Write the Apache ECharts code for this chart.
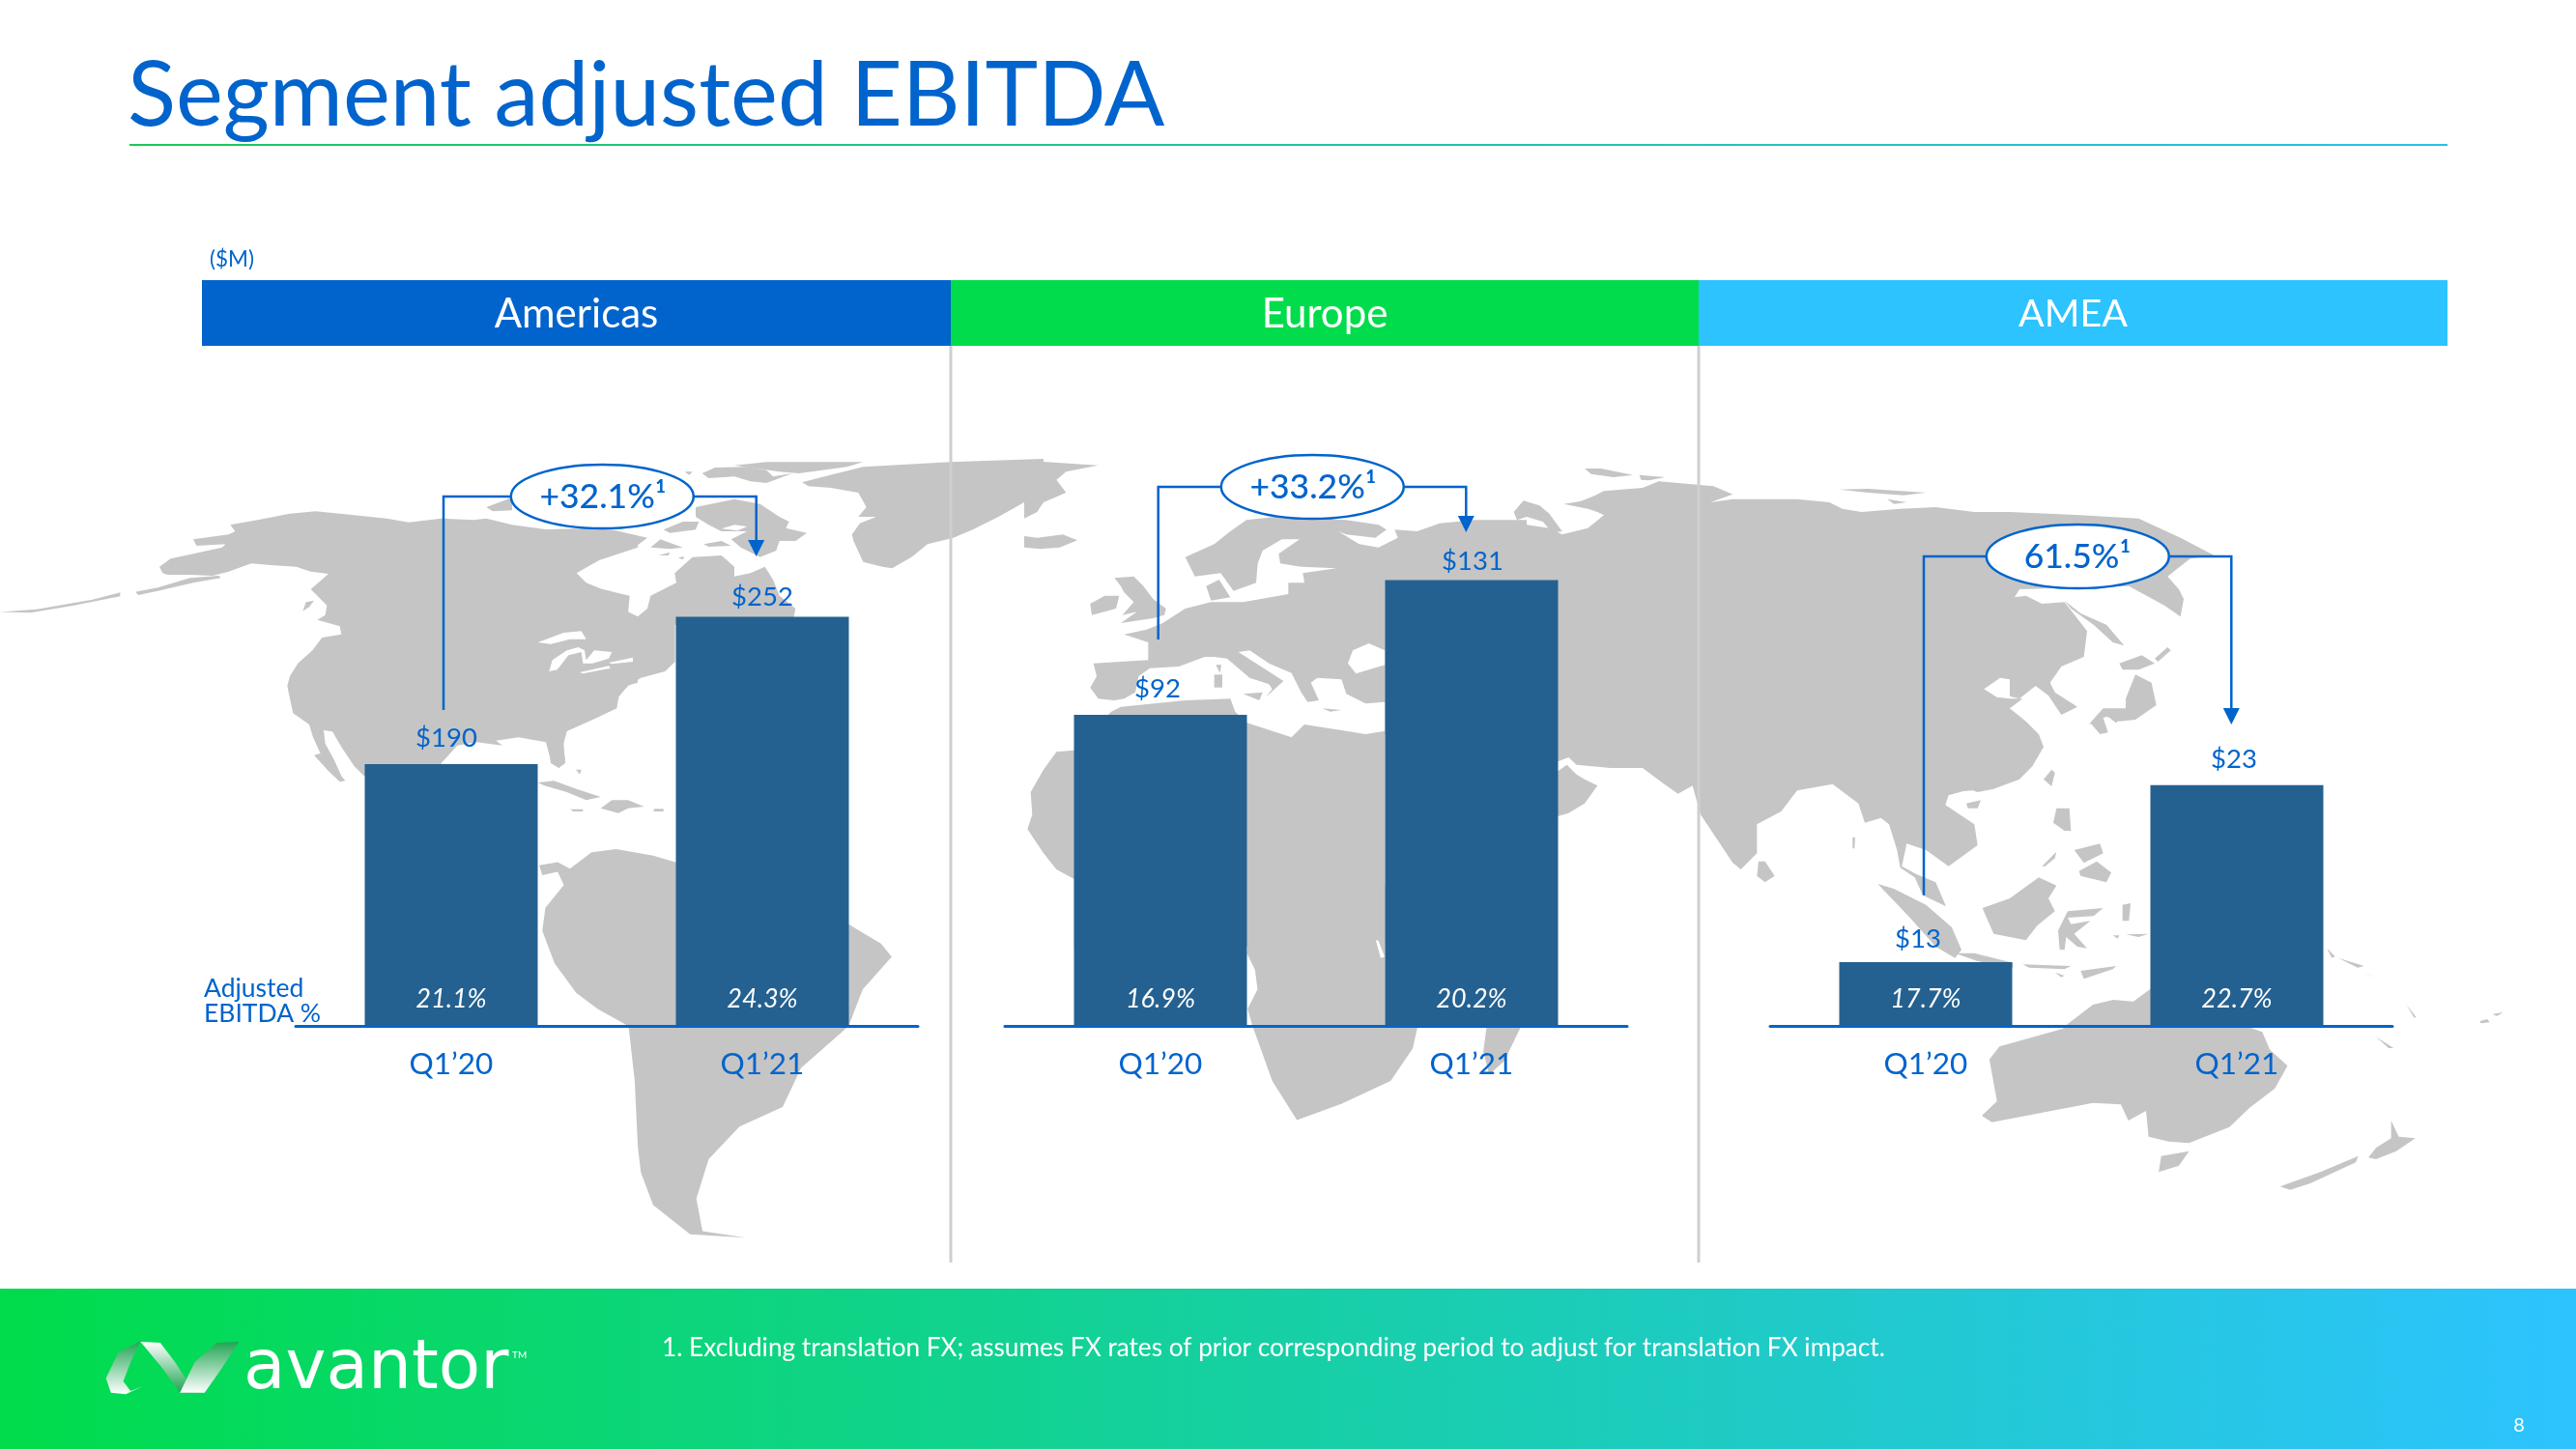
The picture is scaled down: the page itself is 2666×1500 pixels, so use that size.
<!DOCTYPE html>
<html><head><meta charset="utf-8">
<style>html,body{margin:0;padding:0;background:#fff}#c{width:2666px;height:1500px}</style>
<script src="https://cdn.jsdelivr.net/npm/echarts@6/dist/echarts.min.js"></script>
</head><body><div id="c"></div>
<script>
// ---- data ----
const categories = ['Q1’20', 'Q1’21'];
const regions = ['Americas', 'Europe', 'AMEA'];
const americasEbitda = [190, 252];
const europeEbitda = [92, 131];
const ameaEbitda = [13, 23];
const americasMargin = [21.1, 24.3];
const europeMargin = [16.9, 20.2];
const ameaMargin = [17.7, 22.7];
const growthLabels = ['+32.1%¹', '+33.2%¹', '61.5%¹'];
const footnote = '1. Excluding translation FX; assumes FX rates of prior corresponding period to adjust for translation FX impact.';

// value windows of the three truncated axes
const axisMin = [80, 2, 9.4];
const axisMax = [348, 186.5, 45.4];

// ---- palette ----
const BLUE = '#0064CC', GREEN = '#00DC4B', CYAN = '#2DC3FF', BAR = '#246190', LAND = '#C5C5C5', RULE = '#CFCFCF';
const FONT = 'Lato';

// ---- background world map outline (decorative), traced in crop views ----
const views = {
  a: [0, 240, 1.568, 1.479], b: [980, 240, 1.96, 1.479],
  w: [140, 470, 3, 3], e: [560, 460, 3, 3], u: [1060, 460, 3, 3],
  s: [1560, 470, 3, 3], o: [1980, 560, 3, 3], z: [1800, 820, 1.912, 3]
};
const land = [
 ['a',[[0,582],[60,578],[150,563],[195,552],[195,558],[120,572],[50,583]]],
 ['w',[[0,428],[70,415],[170,385],[260,378],[265,385],[180,400],[70,425],[10,438]]],
 ['w',[[75,350],[110,325],[180,310],[270,290],[280,280],[190,285],[180,265],[290,250],[310,240],[295,220],[380,205],[480,185],[560,178],[680,190],[780,200],[850,212],[950,200],[1050,205],[1090,200],[1170,220],[1280,235],[1290,240],[1560,255],[1560,290],[1440,330],[1370,370],[1385,405],[1470,425],[1530,445],[1530,490],[1560,505],[1560,710],[1505,725],[1490,790],[1430,820],[1340,860],[1330,900],[1335,960],[1315,975],[1290,950],[1275,895],[1190,880],[1120,890],[1140,905],[1060,895],[1000,905],[950,960],[945,1000],[710,1000],[680,970],[640,910],[612,862],[585,858],[590,900],[615,945],[640,1000],[652,1015],[635,1018],[600,985],[555,935],[575,930],[552,880],[540,840],[490,805],[480,760],[472,720],[480,690],[505,650],[550,610],[580,570],[640,560],[635,535],[565,515],[590,500],[595,470],[545,420],[600,372],[545,365],[500,350],[420,345],[360,340],[290,365],[240,378],[170,375],[100,375],[85,370]]],
 ['w',[[520,488],[530,460],[555,455],[540,475]]],
 ['w',[[1090,165],[1170,135],[1170,175],[1110,178]]],
 ['w',[[1250,1020],[1300,1015],[1370,1040],[1445,1065],[1400,1075],[1340,1050],[1270,1030]]],
 ['e',[[0,265],[100,262],[220,265],[330,290],[290,320],[210,345],[140,370],[110,400],[140,430],[190,450],[275,470],[270,525],[300,535],[330,510],[340,470],[420,430],[415,400],[470,350],[560,345],[600,380],[600,410],[650,400],[695,380],[720,420],[740,470],[790,510],[780,560],[416,560],[416,675],[385,705],[310,725],[270,750],[240,790],[235,820],[160,855],[80,890],[65,920],[75,985],[55,1005],[30,990],[20,920],[0,915]]],
 ['e',[[185,1130],[220,1105],[270,1105],[320,1125],[270,1130],[240,1145]]],
 ['e',[[90,1133],[130,1133],[130,1140],[100,1140]]],
 ['e',[[350,1132],[380,1132],[380,1140],[350,1140]]],
 ['e',[[108,1010],[125,1010],[120,1025]]],
 ['e',[[480,195],[600,170],[680,185],[740,225],[770,240],[760,260],[825,275],[790,300],[740,300],[730,330],[680,350],[620,320],[590,295],[640,270],[600,270],[560,270],[520,250],[480,225]]],
 ['e',[[380,265],[440,240],[490,240],[480,265],[400,275]]],
 ['e',[[340,320],[370,295],[440,320],[400,325]]],
 ['e',[[505,310],[560,300],[590,315],[520,318]]],
 ['e',[[365,345],[400,335],[395,345]]],
 ['e',[[425,352],[445,348],[440,358]]],
 ['e',[[500,90],[540,72],[640,70],[700,80],[720,100],[780,90],[700,120],[650,115],[600,100],[520,105]]],
 ['e',[[445,85],[470,85],[460,95]]],
 ['e',[[600,65],[700,55],[1000,55],[950,70],[800,90],[740,85]]],
 ['e',[[810,118],[880,100],[1000,70],[1270,55],[1560,45],[1560,160],[1500,180],[1420,225],[1340,265],[1280,290],[1200,310],[1150,350],[1090,385],[1060,380],[1000,365],[970,300],[965,280],[990,245],[1040,225],[985,225],[1010,195],[985,150],[900,135],[830,130]]],
 ['u',[[0,50],[230,65],[130,85],[100,110],[130,150],[60,180],[40,210],[0,230]]],
 ['u',[[0,285],[40,290],[120,280],[165,298],[110,320],[50,325],[0,320]]],
 ['u',[[280,415],[340,410],[370,440],[400,480],[440,510],[435,530],[400,540],[300,555],[350,520],[305,530],[340,490],[310,460],[300,440]]],
 ['u',[[205,495],[250,470],[295,470],[285,510],[210,530]]],
 // Europe with Scandinavia and the Russian Arctic shore
 ['u',[[310,590],[380,575],[430,555],[500,510],[580,490],[680,490],[820,465],[820,430],[870,430],[865,400],[970,385],[860,380],[795,370],[790,340],[855,295],[800,295],[740,330],[725,370],[720,430],[650,455],[610,400],[530,410],[500,350],[590,310],[640,270],[690,235],[780,225],[1000,235],[1100,250],[1125,265],[1090,290],[1000,280],[975,270],[1040,310],[1100,320],[1160,290],[1150,265],[1220,270],[1290,245],[1400,235],[1560,235],[1560,900],[1120,900],[1120,800],[1060,805],[1000,775],[985,730],[910,725],[890,740],[915,795],[880,800],[860,770],[830,710],[760,680],[700,640],[665,645],[720,680],[805,735],[750,785],[770,760],[760,745],[700,725],[630,665],[590,660],[560,660],[480,690],[390,695],[355,720],[345,770],[310,790],[280,795],[230,790],[205,755],[225,720],[215,680],[385,670],[385,615]]],
 ['u',[[565,440],[605,420],[640,475],[580,485]]],
 ['u',[[680,775],[740,770],[730,795]]],
 ['u',[[590,715],[615,715],[615,755],[590,755]]],
 ['u',[[595,685],[612,685],[608,710]]],
 ['u',[[925,820],[985,825],[950,830]]],
 // Africa
 ['u',[[270,830],[300,815],[500,795],[640,790],[655,830],[692,865],[830,910],[870,870],[1000,890],[1060,900],[1120,890],[1120,1560],[155,1560],[155,1350],[100,1320],[60,1270],[10,1195],[25,1150],[20,1080],[60,1010],[100,955],[155,950]]],
 ['b',[[612,1000],[889,1000],[889,1216],[955,1216],[945,1250],[900,1300],[800,1335],[710,1360],[660,1300],[620,1216],[610,1190],[630,1160],[625,1130],[609,1105]]],
 ['b',[[1095,1216],[1165,1216],[1130,1270],[1100,1290],[1088,1255]]],
 // South America
 ['a',[[875,970],[905,965],[925,975],[960,950],[1000,945],[1060,955],[1096,965],[1377,1060],[1430,1090],[1447,1110],[1400,1160],[1377,1216],[1300,1280],[1270,1340],[1200,1370],[1150,1420],[1130,1480],[1140,1530],[1210,1540],[1120,1535],[1060,1490],[1040,1440],[1035,1400],[1030,1300],[1020,1216],[970,1190],[935,1165],[900,1120],[880,1070],[885,1035],[915,1000],[905,980],[880,985]]],
 // Asia
 ['s',[[157,985],[185,965],[215,995],[240,1010],[280,1030],[240,1085],[190,1115],[157,1125],[100,1125]]],
 ['s',[[0,205],[30,215],[130,230],[170,250],[250,230],[300,190],[220,150],[270,130],[300,115],[420,105],[470,85],[530,90],[640,100],[700,125],[630,150],[700,140],[780,140],[900,140],[1000,150],[1040,170],[1100,180],[1220,170],[1330,165],[1450,180],[1560,180],[1560,1020],[1440,1040],[1370,1060],[1360,1090],[1450,1150],[1460,1215],[1370,1280],[1300,1230],[1240,1210],[1225,1280],[1270,1305],[1330,1330],[1362,1405],[1290,1370],[1265,1315],[1220,1285],[1210,1230],[1185,1150],[1160,1130],[1110,1145],[1090,1085],[1010,1025],[900,1045],[850,1110],[775,1150],[775,1240],[725,1290],[700,1270],[640,1180],[600,1120],[575,1030],[530,1055],[480,1020],[420,975],[320,975],[215,965],[190,942],[157,955],[0,960]]],
 ['s',[[20,180],[50,145],[100,160],[130,185],[170,240],[140,245],[110,210],[60,195],[30,205]]],
 ['s',[[175,155],[240,145],[310,190],[250,170]]],
 ['s',[[240,45],[290,45],[390,65],[330,72],[260,62]]],
 ['s',[[410,65],[490,72],[440,82],[415,80]]],
 ['s',[[1030,110],[1120,108],[1300,120],[1230,128],[1120,120]]],
 ['s',[[1180,140],[1240,150],[1200,155]]],
 ['s',[[780,1265],[800,1265],[830,1310],[800,1330],[775,1310]]],
 ['s',[[1072,1190],[1080,1190],[1078,1225],[1072,1225]]],
 ['s',[[1150,1335],[1200,1350],[1300,1400],[1380,1470],[1410,1540],[1390,1565],[1330,1530],[1250,1440]]],
 // East Asia
 ['o',[[0,-90],[300,-90],[520,-80],[700,-70],[830,-10],[935,45],[860,55],[790,110],[825,150],[840,180],[830,235],[780,200],[670,140],[330,150],[315,175],[350,170],[400,195],[470,190],[540,280],[530,360],[460,390],[425,440],[440,470],[510,515],[460,540],[420,480],[380,450],[330,490],[290,480],[285,430],[260,425],[220,460],[280,490],[340,490],[300,520],[350,560],[390,600],[405,640],[370,700],[330,740],[250,770],[200,780],[185,775],[110,780],[100,815],[0,815]]],
 ['o',[[165,815],[210,805],[200,830],[170,830]]],
 ['o',[[405,740],[430,710],[440,720],[430,762]]],
 ['o',[[545,570],[590,520],[660,520],[660,490],[690,415],[740,440],[755,510],[690,555],[640,560],[600,545]]],
 ['o',[[550,565],[590,550],[605,595],[580,600]]],
 ['o',[[610,550],[650,545],[630,565]]],
 ['o',[[640,380],[710,355],[750,380],[700,400],[650,400]]],
 ['o',[[470,185],[520,225],[600,260],[655,325],[620,315],[560,260],[490,210]]],
 ['o',[[750,365],[790,330],[800,340],[760,375]]],
 ['o',[[445,830],[485,830],[490,900],[470,900],[435,875]]],
 ['o',[[515,1025],[570,995],[615,1030],[600,1060],[560,1050],[520,1040]]],
 ['o',[[500,960],[580,940],[590,970],[530,1000]]],
 ['o',[[400,1010],[445,965],[440,985],[410,1010]]],
 ['o',[[215,1140],[300,1110],[390,1045],[445,1070],[420,1110],[440,1150],[385,1195],[350,1240],[250,1220]]],
 ['o',[[450,1210],[480,1150],[590,1140],[560,1165],[480,1170],[490,1190],[550,1180],[500,1220],[540,1265],[510,1260],[475,1230],[470,1270],[455,1270]]],
 ['o',[[130,1280],[190,1280],[310,1310],[310,1325],[200,1305]]],
 ['o',[[340,1315],[490,1320],[470,1330],[360,1325]]],
 ['o',[[440,1340],[470,1350],[460,1355]]],
 ['o',[[520,1335],[630,1320],[620,1330],[530,1360]]],
 ['o',[[620,1225],[640,1225],[635,1235]]],
 ['o',[[660,1222],[730,1220],[700,1230]]],
 ['o',[[650,1130],[675,1125],[670,1180],[650,1180]]],
 ['o',[[1285,1265],[1310,1290],[1300,1295]]],
 ['o',[[1320,1295],[1400,1320],[1380,1325]]],
 ['o',[[1400,1340],[1450,1360],[1410,1345]]],
 // Oceania
 ['z',[[650,720],[700,660],[740,645],[780,650],[815,610],[1000,725],[1035,745],[1050,800],[1085,850],[1060,920],[1010,980],[970,1040],[890,1090],[850,1085],[810,1070],[805,990],[770,1020],[755,970],[700,965],[600,995],[500,1025],[480,1005],[510,960],[495,830],[515,790],[640,735]]],
 ['z',[[835,1130],[890,1115],[870,1160],[830,1180]]],
 ['z',[[1070,1225],[1150,1180],[1225,1130],[1220,1150],[1130,1215],[1090,1235]]],
 ['z',[[1245,1135],[1260,1105],[1290,1075],[1290,1020],[1305,1070],[1338,1075],[1300,1115],[1260,1140]]],
 ['z',[[1465,712],[1480,705],[1485,715],[1468,718]]],
 ['z',[[1490,690],[1512,683],[1500,695]]],
 ['z',[[1260,760],[1295,795],[1285,795]]],
 ['z',[[1320,660],[1340,700],[1335,700]]]
];
const water = [
 ['w',[[1250,585],[1330,555],[1385,550],[1400,575],[1350,575],[1290,590]]],
 ['w',[[1285,675],[1295,640],[1340,610],[1375,600],[1395,610],[1400,640],[1425,610],[1480,615],[1470,635],[1420,650],[1390,650],[1385,615],[1345,625],[1310,670]]],
 ['w',[[1380,678],[1470,658],[1475,665],[1390,682]]],
 ['w',[[1470,648],[1545,632],[1545,645],[1480,652]]],
 ['w',[[1500,755],[1525,725],[1510,765]]],
 ['e',[[560,262],[600,250],[640,255],[610,268]]],
 ['u',[[1005,680],[1020,640],[1070,618],[1120,640],[1120,685],[1030,712]]],
 ['b',[[870,1085],[875,1085],[888,1110],[880,1112]]],
 ['s',[[1480,730],[1530,695],[1560,700],[1560,760],[1520,755]]]
];
function mapPts(view, pts) {
  const v = views[view];
  return pts.map(p => [v[0] + p[0] / v[2], v[1] + p[1] / v[3]]);
}

// ---- text helper ----
function txt(text, x, y, size, fill, align, extra) {
  return { type: 'text', x, y, z: 20, silent: true, style: Object.assign({
    text, fill, fontSize: size, fontFamily: FONT, textAlign: align || 'left', textVerticalAlign: 'middle'
  }, extra || {}) };
}
const hGrad = (stops) => ({ type: 'linear', x: 0, y: 0, x2: 1, y2: 0, colorStops: stops });
const vGrad = (stops) => ({ type: 'linear', x: 0, y: 0, x2: 0, y2: 1, colorStops: stops });

const graphic = [];
// map
land.forEach(l => graphic.push({ type: 'polygon', z: 0, silent: true, shape: { points: mapPts(l[0], l[1]) }, style: { fill: LAND } }));
water.forEach(l => graphic.push({ type: 'polygon', z: 0, silent: true, shape: { points: mapPts(l[0], l[1]) }, style: { fill: '#fff' } }));

// title + rule
graphic.push(txt('Segment adjusted EBITDA', 132, 100, 92.5, BLUE));
graphic.push({ type: 'rect', z: 1, silent: true, shape: { x: 134, y: 149, width: 2399, height: 2 },
  style: { fill: hGrad([{ offset: 0, color: '#1CC85A' }, { offset: 1, color: '#2BBFE6' }]) } });
graphic.push(txt('($M)', 217, 269, 22.5, BLUE));

// header bands and dividers
[[209, 775, BLUE], [984, 774, GREEN], [1758, 775, CYAN]].forEach((b, i) => {
  graphic.push({ type: 'rect', z: 1, silent: true, shape: { x: b[0], y: 290, width: b[1], height: 68 }, style: { fill: b[2] } });
  graphic.push(txt(regions[i], b[0] + b[1] / 2, 325, i === 2 ? 39.5 : 42, '#fff', 'center'));
});
[984, 1758].forEach(x => graphic.push({ type: 'rect', z: 1, silent: true, shape: { x: x - 1.5, y: 358, width: 3, height: 949 }, style: { fill: RULE } }));

// left-hand row label
graphic.push(txt('Adjusted', 211, 1023, 26.5, BLUE));
graphic.push(txt('EBITDA %', 211, 1049, 26.5, BLUE));

// growth callouts
[
  { cx: 623.3, cy: 514, left: 459, from: 735, right: 782.7, tip: 576, text: 624 },
  { cx: 1358.3, cy: 504, left: 1198.7, from: 662, right: 1517.3, tip: 551, text: 1359 },
  { cx: 2150.3, cy: 576, left: 1991, from: 926.7, right: 2309.3, tip: 750, text: 2150 }
].forEach((c, i) => {
  graphic.push({ type: 'polyline', z: 15, silent: true, shape: { points: [[c.left, c.from], [c.left, c.cy], [c.cx, c.cy], [c.right, c.cy], [c.right, c.tip - 14]] },
    style: { stroke: BLUE, lineWidth: 2.5, fill: 'none' } });
  graphic.push({ type: 'polygon', z: 15, silent: true, shape: { points: [[c.right - 8.5, c.tip - 17], [c.right + 8.5, c.tip - 17], [c.right, c.tip]] }, style: { fill: BLUE } });
  graphic.push({ type: 'ellipse', z: 16, silent: true, shape: { cx: c.cx, cy: c.cy, rx: 94.5, ry: 33 }, style: { fill: '#fff', stroke: BLUE, lineWidth: 2.5 } });
  graphic.push(Object.assign(txt(growthLabels[i], c.text, c.cy + 1, 35.5, BLUE, 'center', { fontWeight: 500 }), { z: 17 }));
});

// footer
graphic.push({ type: 'rect', z: 1, silent: true, shape: { x: 0, y: 1334, width: 2666, height: 166 },
  style: { fill: hGrad([{ offset: 0, color: '#00DC4B' }, { offset: 1, color: '#2DC3FF' }]) } });
const logoPts = (pts) => pts.map(p => [p[0] / 1.96, 1320 + p[1] / 3]);
graphic.push({ type: 'polygon', z: 3, silent: true, shape: { points: logoPts([[285,205],[240,240],[215,320],[225,365],[255,370],[290,345],[265,360],[250,330],[265,270]]) },
  style: { fill: vGrad([{ offset: 0, color: '#1FA552' }, { offset: 1, color: '#FFFFFF' }]) } });
graphic.push({ type: 'polygon', z: 3, silent: true, shape: { points: logoPts([[285,207],[325,210],[355,270],[395,365],[365,365],[330,290]]) },
  style: { fill: vGrad([{ offset: 0, color: '#FFFFFF' }, { offset: 1, color: '#1FA552' }]) } });
graphic.push({ type: 'polygon', z: 3, silent: true, shape: { points: logoPts([[485,207],[440,210],[395,270],[365,365],[415,365],[445,300]]) },
  style: { fill: vGrad([{ offset: 0, color: '#1FA552' }, { offset: 1, color: '#FFFFFF' }]) } });
graphic.push(txt('avantor', 252, 1419, 71, '#fff', 'left', { fontFamily: 'DejaVu Sans' }));
graphic.push(txt('TM', 530, 1403, 10, '#fff'));
graphic.push(txt(footnote, 685, 1396, 26.2, '#fff'));
graphic.push(txt('8', 2607, 1476, 20, '#fff', 'center'));

// ---- bar panels ----
const gridX = [306, 1040, 1832];
const GRID_W = 644;
const ebitda = [americasEbitda, europeEbitda, ameaEbitda];
const margins = [americasMargin, europeMargin, ameaMargin];
const labelNudge = [[[-5, -2], [0, 5]], [[-3, -2], [1, 6]], [[-8, 1], [-3, -2]]];

const option = {
  animation: false,
  backgroundColor: '#fff',
  graphic,
  grid: gridX.map(x => ({ left: x, width: GRID_W, top: 402, height: 660 })),
  xAxis: gridX.map((_, i) => ({
    type: 'category', gridIndex: i, data: categories,
    axisLine: { show: true, lineStyle: { color: BLUE, width: 3 } },
    axisTick: { show: false },
    axisLabel: { color: BLUE, fontSize: 31.5, fontFamily: FONT, margin: 24 }
  })),
  yAxis: gridX.map((_, i) => ({ type: 'value', gridIndex: i, min: axisMin[i], max: axisMax[i], show: false })),
  series: gridX.flatMap((_, i) => [
    {
      type: 'bar', xAxisIndex: i, yAxisIndex: i, barWidth: 179, barGap: '-100%', z: 5,
      itemStyle: { color: BAR },
      data: ebitda[i].map((v, k) => ({
        value: v,
        label: { show: true, position: 'top', distance: 11, offset: labelNudge[i][k],
          color: BLUE, fontSize: 27.5, fontFamily: FONT, formatter: '$' + v }
      }))
    },
    {
      type: 'bar', xAxisIndex: i, yAxisIndex: i, barWidth: 179, barGap: '-100%', z: 6,
      itemStyle: { color: 'rgba(0,0,0,0)' },
      data: ebitda[i].map((v, k) => ({
        value: v,
        label: { show: true, position: 'insideBottom', distance: 14,
          color: '#fff', fontSize: 27, fontStyle: 'italic', fontFamily: FONT, formatter: margins[i][k].toFixed(1) + '%' }
      }))
    }
  ])
};
const chart = echarts.init(document.getElementById('c'), null, { renderer: 'canvas', width: 2666, height: 1500 });
chart.setOption(option);
</script></body></html>
